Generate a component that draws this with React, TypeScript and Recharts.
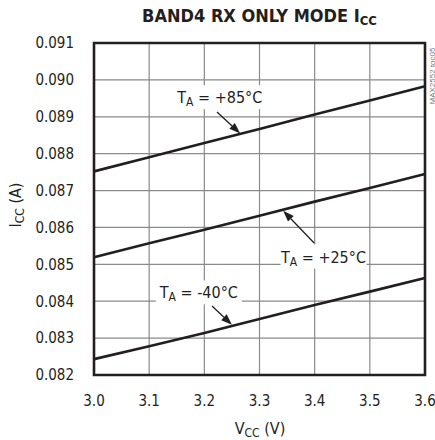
import { LineChart, Line, XAxis, YAxis, CartesianGrid, ReferenceArea, ReferenceLine, ReferenceDot } from 'recharts';

const FONT = '"Liberation Sans Narrow", "DejaVu Sans Condensed", "Roboto Condensed", sans-serif';
const INK = '#231f20';
const GRID = '#8a8a8a';

// supply voltage (V)
const vcc = [3.0, 3.1, 3.2, 3.3, 3.4, 3.5, 3.6];
// supply current (A) per temperature
const icc85 = [0.08752, 0.0879, 0.08829, 0.08867, 0.08906, 0.08944, 0.08983];
const icc25 = [0.08519, 0.08557, 0.08594, 0.08632, 0.0867, 0.08707, 0.08745];
const iccM40 = [0.08243, 0.08278, 0.08314, 0.08352, 0.0839, 0.08426, 0.08463];

const xTicks = [3.0, 3.1, 3.2, 3.3, 3.4, 3.5, 3.6];
const yTicks = [0.082, 0.083, 0.084, 0.085, 0.086, 0.087, 0.088, 0.089, 0.09, 0.091];

const data = vcc.map((v, i) => ({ v, t85: icc85[i], t25: icc25[i], tm40: iccM40[i] }));

// callouts: label centre, and arrow tail -> head in data units
const callouts = [
  { temp: '+85°C', x: 3.228, y: 0.08953, w: 82, from: [3.223, 0.08913], to: [3.265, 0.08855] },
  { temp: '+25°C', x: 3.416, y: 0.08521, w: 86, from: [3.399, 0.08558], to: [3.343, 0.08645] },
  { temp: '-40°C', x: 3.19, y: 0.08424, w: 86, from: [3.214, 0.08387], to: [3.25, 0.08336] },
];

function Arrow(props: any) {
  const { x1, y1, x2, y2 } = props;
  const ang = Math.atan2(y2 - y1, x2 - x1);
  const len = 11;
  const half = 4;
  const bx = x2 - len * Math.cos(ang);
  const by = y2 - len * Math.sin(ang);
  const px = -Math.sin(ang) * half;
  const py = Math.cos(ang) * half;
  return (
    <g>
      <line x1={x1} y1={y1} x2={bx} y2={by} stroke={INK} strokeWidth={1.3} />
      <polygon points={`${x2},${y2} ${bx + px},${by + py} ${bx - px},${by - py}`} fill={INK} />
    </g>
  );
}

function TempLabel(props: any) {
  const { cx, cy, temp, w } = props;
  return (
    <g>
      <rect x={cx - w / 2} y={cy - 12} width={w} height={24} fill="#fff" />
      <text x={cx} y={cy + 6} textAnchor="middle" fontFamily={FONT} fontSize={16} fill={INK}>
        T<tspan fontSize={12} dy={3}>A</tspan>
        <tspan dy={-3}> = {temp}</tspan>
      </text>
    </g>
  );
}

export default function App() {
  return (
    <div style={{ position: 'absolute', left: 0, top: 0, width: 435, height: 440, background: '#fff', fontFamily: FONT }}>
      <div style={{ position: 'absolute', left: 0, width: 435, top: 5, textAlign: 'center', paddingLeft: 84, boxSizing: 'border-box', fontWeight: 700, fontSize: 18, color: INK }}>
        BAND4 RX ONLY MODE I<span style={{ fontSize: 13, position: 'relative', top: 3 }}>CC</span>
      </div>
      <div style={{ position: 'absolute', left: 15, top: 205, transform: 'translate(-50%, -50%) rotate(-90deg)', whiteSpace: 'nowrap', fontSize: 16, color: INK }}>
        I<span style={{ fontSize: 12, position: 'relative', top: 3 }}>CC</span> (A)
      </div>
      <div style={{ position: 'absolute', left: 260, top: 428, transform: 'translate(-50%, -50%)', whiteSpace: 'nowrap', fontSize: 16, color: INK }}>
        V<span style={{ fontSize: 12, position: 'relative', top: 3 }}>CC</span> (V)
      </div>
      <div style={{ position: 'absolute', left: 432, top: 76, transform: 'translate(-50%, -50%) rotate(-90deg)', whiteSpace: 'nowrap', fontSize: 8, color: '#777', fontFamily: 'Arial, sans-serif' }}>
        MAX2552 toc05
      </div>
      <LineChart width={435} height={440} data={data} margin={{ top: 43, right: 10, bottom: 0, left: 34 }}>
        <CartesianGrid stroke={GRID} strokeWidth={1.2} horizontalValues={yTicks} verticalValues={xTicks} />
        <XAxis
          dataKey="v"
          type="number"
          domain={[3.0, 3.6]}
          ticks={xTicks}
          tickFormatter={(v: number) => v.toFixed(1)}
          tickLine={false}
          axisLine={false}
          tickSize={6}
          tickMargin={14}
          tick={{ fill: INK, fontSize: 15, fontFamily: FONT }}
          interval={0}
          height={65}
        />
        <YAxis
          type="number"
          domain={[0.082, 0.091]}
          ticks={yTicks}
          tickFormatter={(v: number) => v.toFixed(3)}
          tickLine={false}
          axisLine={false}
          tickSize={6}
          tickMargin={14}
          tick={{ fill: INK, fontSize: 15, fontFamily: FONT }}
          interval={0}
          width={60}
          allowDataOverflow
        />
        {callouts.map((c) => (
          <ReferenceDot
            key={c.temp}
            x={c.x}
            y={c.y}
            r={0}
            shape={(p: any) => <TempLabel {...p} temp={c.temp} w={c.w} />}
          />
        ))}
        {callouts.map((c) => (
          <ReferenceLine
            key={'a' + c.temp}
            segment={[{ x: c.from[0], y: c.from[1] }, { x: c.to[0], y: c.to[1] }]}
            shape={(p: any) => <Arrow {...p} />}
          />
        ))}
        <ReferenceArea x1={3.0} x2={3.6} y1={0.082} y2={0.091} fill="none" stroke={INK} strokeWidth={2.6} />
        <Line dataKey="t85" type="linear" stroke={INK} strokeWidth={2.6} dot={false} isAnimationActive={false} />
        <Line dataKey="t25" type="linear" stroke={INK} strokeWidth={2.6} dot={false} isAnimationActive={false} />
        <Line dataKey="tm40" type="linear" stroke={INK} strokeWidth={2.6} dot={false} isAnimationActive={false} />
      </LineChart>
    </div>
  );
}
